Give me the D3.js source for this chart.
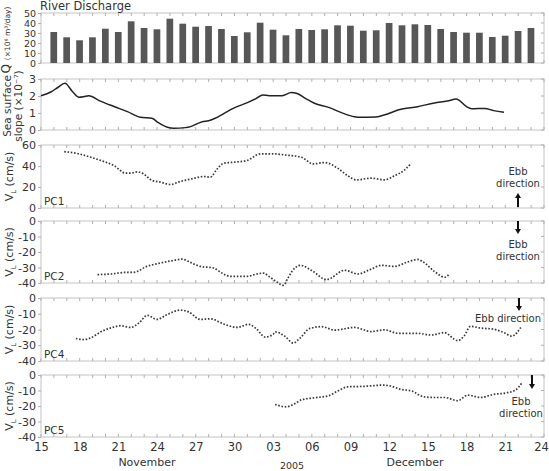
<!DOCTYPE html>
<html>
<head>
<meta charset="utf-8">
<script src="https://cdn.jsdelivr.net/npm/d3@7"></script>
<style>
  body { margin: 0; background: #fff; }
  svg text { font-family: "DejaVu Sans", Verdana, sans-serif; fill: #333; }
</style>
</head>
<body>
<div id="plot"></div>
<script>
// Data (day = days since 15 Nov 2005)
var discharge = [31, 25.7, 22.7, 25.7, 34.3, 31, 41.7, 35, 33.7, 44.3, 39.3, 36.3, 37, 34, 27, 30.7, 40.3, 33.3,
                 27.7, 34, 33, 33.7, 37.7, 37.3, 32.3, 32.7, 40, 37.7, 38.7, 38, 34, 31, 30.3, 30.3, 26, 27.3, 32, 35];

var slopeDays = [0, 0.8, 1.3, 1.85, 2.45, 2.95, 3.3, 3.7, 4.6, 5.7, 6.7, 7.7, 8.6, 9.1, 9.8, 10.3, 11.2, 11.6, 12.5, 13.0,
                 13.5, 14.2, 14.9, 16.0, 16.7, 17.2, 17.7, 18.2, 18.7, 19.4, 19.8, 20.5, 21.2, 22.3, 23.3, 24.3, 24.8,
                 25.9, 26.6, 27.9, 29.2, 30.5, 31.5, 32.2, 32.4, 33.0, 33.4, 34.4, 35.1, 35.9];
var slopeVals = [2.02, 2.25, 2.5, 2.75, 2.25, 1.92, 1.95, 2.02, 1.7, 1.37, 1.08, 0.75, 0.69, 0.43, 0.16, 0.1, 0.14, 0.2, 0.49, 0.55,
                 0.69, 0.98, 1.27, 1.61, 1.86, 2.06, 2.02, 2.02, 2.02, 2.2, 2.16, 1.86, 1.57, 1.33, 1.02, 0.78, 0.75,
                 0.76, 0.88, 1.22, 1.37, 1.59, 1.7, 1.82, 1.76, 1.37, 1.25, 1.27, 1.14, 1.04];

var pc1Days = [1.8, 2.96, 3.86, 4.89, 5.66, 6.56, 6.95, 7.46, 7.85, 8.62, 9.27, 10.04, 10.81, 11.71, 12.6, 13.13, 13.64, 14.16,
               14.93, 15.96, 16.99, 17.7, 18.15, 18.9, 20.2, 21.1, 22.0, 23.0, 23.8, 24.45, 25.6, 26.64, 27.4, 28.2, 28.7];
var pc1Vals = [53.7, 51.5, 48.3, 44.2, 40.4, 33.2, 33.2, 34.4, 33.2, 26.2, 24.6, 22.4, 25.3, 27.8, 30, 29.4, 36.9, 42.6,
               43.6, 45.2, 51.5, 51.5, 51.5, 50.5, 48.3, 42, 43.3, 37.9, 30.6, 26.8, 28.4, 26.8, 30.6, 36.3, 42.6];

var pc2Days = [4.38, 5.4, 6.69, 7.2, 8.2, 9.27, 10.3, 10.94, 11.58, 12.35, 13.38, 14.03, 14.67, 15.96, 16.73, 17.24, 17.76,
               18.15, 18.8, 19.15, 19.46, 20.1, 21.0, 22.14, 23.55, 24.58, 25.5, 26.4, 27.4, 28.4, 29.2, 29.56, 30.5, 31.3, 31.66];
var pc2Vals = [-34.6, -34.2, -33.1, -33.1, -29.3, -27.1, -25.4, -24.6, -26.7, -29.3, -30.3, -33.6, -35.7, -35.7, -34.2, -33.6, -36.3,
               -38.5, -41.5, -36.8, -32.5, -28.6, -32, -37.8, -31.8, -34.2, -31.4, -28.6, -29.3, -26.5, -24.8, -26, -32.5, -36.3, -34.2];

var pc4Days = [2.7, 3.35, 3.86, 4.63, 5.54, 6.18, 6.95, 7.6, 8.24, 9.0, 9.78, 10.81, 11.45, 12.35, 13.13, 14.16, 15.2, 16.1,
               16.73, 17.37, 18.0, 18.15, 18.9, 19.56, 20.1, 20.85, 21.75, 22.78, 24.3, 25.6, 26.64, 27.66, 29.2, 30.25,
               31.27, 32.3, 32.8, 33.3, 34.1, 35.1, 35.9, 36.5, 37.2];
var pc4Vals = [-25.7, -26.4, -25.3, -21.5, -18.7, -17.6, -18.7, -15.8, -11, -13.6, -10.5, -7.7, -8.8, -13.6, -13.2, -16.5, -18.7, -16.7,
               -19.8, -24.8, -23.1, -21.5, -24.2, -28.6, -25.3, -19.3, -18.2, -20.4, -18.7, -21.3, -20.2, -22.4, -22.4, -23.5,
               -22, -27, -24.2, -18, -19.1, -19.8, -22, -24.2, -18.7];

var pc5Days = [18.15, 19.0, 19.7, 20.2, 21.2, 22.3, 23.0, 23.8, 24.8, 25.8, 26.4, 27.0, 27.9, 28.7, 29.7, 30.5, 31.3, 32.3,
               33.1, 34.1, 35.1, 36.1, 36.8, 37.25];
var pc5Vals = [-19, -20.5, -18.4, -16, -14.7, -13.4, -10.4, -7.6, -7.4, -6.9, -6.5, -6.9, -9.3, -10.2, -14.1, -14.5, -14.5, -16.6,
               -13, -14.5, -12.5, -11.5, -9.7, -5.4];

var qTicks = [0, 10, 20, 30, 40, 50];
var slopeTicks = [0, 1, 2, 3];
var pc1Ticks = [0, 20, 40, 60];
var pcNegTicks = [0, -10, -20, -30, -40];
var xTickDays = [0, 3, 6, 9, 12, 15, 18, 21, 24, 27, 30, 33, 36, 39];

// Layout
var w = 549, h = 471;
var left = 41, right = 544;
var start = new Date(2005, 10, 15), end = new Date(2005, 11, 24);
var dayToDate = function(d) { return new Date(start.getTime() + d * 864e5); };

var svg = d3.select("#plot").append("svg").attr("width", w).attr("height", h);

var x = d3.scaleTime().domain([start, end]).range([left, right]);
var dayPx = x(dayToDate(1)) - x(start);

var panels = [
  {id: "q", top: 13, bottom: 63, domain: [0, 50], ticks: qTicks, tickFont: 9.5},
  {id: "slope", top: 79, bottom: 130, domain: [0, 3], ticks: slopeTicks, days: slopeDays, vals: slopeVals, solid: true},
  {id: "pc1", top: 145, bottom: 208, domain: [0, 60], ticks: pc1Ticks, days: pc1Days, vals: pc1Vals, label: "PC1"},
  {id: "pc2", top: 221, bottom: 283, domain: [-40, 0], ticks: pcNegTicks, days: pc2Days, vals: pc2Vals, label: "PC2"},
  {id: "pc4", top: 298, bottom: 361, domain: [-40, 0], ticks: pcNegTicks, days: pc4Days, vals: pc4Vals, label: "PC4"},
  {id: "pc5", top: 375, bottom: 437, domain: [-40, 0], ticks: pcNegTicks, days: pc5Days, vals: pc5Vals, label: "PC5"}
];

var allDays = d3.timeDay.range(start, d3.timeDay.offset(end, 1));

panels.forEach(function(p) {
  var y = d3.scaleLinear().domain(p.domain).range([p.bottom, p.top]);
  p.y = y;
  var g = svg.append("g");

  // frame
  g.append("rect")
    .attr("x", left).attr("y", p.top)
    .attr("width", right - left).attr("height", p.bottom - p.top)
    .attr("fill", "none").attr("stroke", "#c4c4c4");

  // daily ticks, top and bottom, inside
  g.selectAll(".tt").data(allDays).enter().append("line")
    .attr("x1", function(d) { return x(d); }).attr("x2", function(d) { return x(d); })
    .attr("y1", p.top).attr("y2", p.top + 3)
    .attr("stroke", "#b0b0b0");
  g.selectAll(".tb").data(allDays).enter().append("line")
    .attr("x1", function(d) { return x(d); }).attr("x2", function(d) { return x(d); })
    .attr("y1", p.bottom).attr("y2", p.bottom - 3)
    .attr("stroke", "#b0b0b0");

  // right side ticks
  g.selectAll(".tr").data(p.ticks).enter().append("line")
    .attr("x1", right).attr("x2", right - 3)
    .attr("y1", function(d) { return y(d); }).attr("y2", function(d) { return y(d); })
    .attr("stroke", "#b0b0b0");

  // left axis
  var yAxis = d3.axisLeft(y).tickValues(p.ticks).tickSize(3).tickPadding(2)
    .tickFormat(function(d) { return String(d); });
  var ax = svg.append("g").attr("transform", "translate(" + left + ",0)").call(yAxis);
  ax.select(".domain").remove();
  ax.selectAll(".tick line").attr("stroke", "#b0b0b0");
  ax.selectAll(".tick text").attr("font-size", p.tickFont || 11).attr("fill", "#333")
    .style("font-family", "DejaVu Sans, Verdana, sans-serif");

  if (p.days) {
    var pts = p.days.map(function(d, i) { return [dayToDate(d), p.vals[i]]; });
    var line = d3.line()
      .x(function(d) { return x(d[0]); })
      .y(function(d) { return y(d[1]); })
      .curve(d3.curveMonotoneX);
    var path = g.append("path").datum(pts)
      .attr("d", line)
      .attr("fill", "none");
    if (p.solid) {
      path.attr("stroke", "#222").attr("stroke-width", 1.5);
    } else {
      path.attr("stroke", "#3a3a3a").attr("stroke-width", 1.7).attr("stroke-dasharray", "1.6,1.7");
    }
  }

  if (p.label) {
    g.append("text").attr("x", left + 3).attr("y", p.bottom - 3)
      .attr("font-size", 10.5).text(p.label);
  }
});

// River discharge bars
var qPanel = panels[0];
var barDays = d3.timeDay.range(d3.timeDay.offset(start, 1), d3.timeDay.offset(start, 39));
svg.append("g").selectAll("rect").data(discharge).enter().append("rect")
  .attr("x", function(d, i) { return x(barDays[i]) - dayPx * 0.27; })
  .attr("width", dayPx * 0.52)
  .attr("y", function(d) { return qPanel.y(d); })
  .attr("height", function(d) { return qPanel.y(0) - qPanel.y(d); })
  .attr("fill", "#575757");

svg.append("text").attr("x", 40).attr("y", 10).attr("font-size", 11.5).text("River Discharge");

// bottom axis labels
var xAxis = d3.axisBottom(x).tickValues(xTickDays.map(dayToDate)).tickSize(0).tickPadding(6)
  .tickFormat(d3.timeFormat("%d"));
var xa = svg.append("g").attr("transform", "translate(0,437)").call(xAxis);
xa.select(".domain").remove();
xa.selectAll(".tick text").attr("font-size", 11.5).attr("fill", "#333")
  .style("font-family", "DejaVu Sans, Verdana, sans-serif");
// keep the last label inside the window
xa.selectAll(".tick text").filter(function(d, i, n) { return i === n.length - 1; }).attr("dx", -3);

svg.append("text").attr("x", 147).attr("y", 466).attr("text-anchor", "middle").attr("font-size", 11).text("November");
svg.append("text").attr("x", 415).attr("y", 466).attr("text-anchor", "middle").attr("font-size", 11).text("December");
svg.append("text").attr("x", 292).attr("y", 469).attr("text-anchor", "middle").attr("font-size", 9.5).text("2005");

// y axis titles
var qt = svg.append("text").attr("transform", "translate(10,40) rotate(-90)").attr("text-anchor", "middle");
qt.append("tspan").attr("font-size", 12).text("Q ");
qt.append("tspan").attr("font-size", 7.5).text("(\u00d710\u2076 m\u00b3/day)");

var st = svg.append("text").attr("transform", "translate(0,106) rotate(-90)").attr("text-anchor", "middle").attr("font-size", 10.5);
st.append("tspan").attr("x", 0).attr("y", 11).text("Sea surface");
st.append("tspan").attr("x", 0).attr("y", 22).text("slope (\u00d710\u207b\u2077)");

panels.slice(2).forEach(function(p) {
  var cy = (p.top + p.bottom) / 2;
  var t = svg.append("text").attr("transform", "translate(13," + cy + ") rotate(-90)")
    .attr("text-anchor", "middle").attr("font-size", 11);
  t.append("tspan").text("V");
  t.append("tspan").attr("font-size", 7).attr("dy", 3).text("L");
  t.append("tspan").attr("dy", -3).text(" (cm/s)");
});

// Ebb direction annotations
function arrow(xp, y1, y2) {
  var dir = y2 > y1 ? 1 : -1;
  svg.append("line").attr("x1", xp).attr("x2", xp).attr("y1", y1).attr("y2", y2 - dir * 4)
    .attr("stroke", "#111").attr("stroke-width", 2);
  svg.append("path")
    .attr("d", "M" + (xp - 3) + "," + (y2 - dir * 5) + "L" + (xp + 3) + "," + (y2 - dir * 5) + "L" + xp + "," + y2 + "Z")
    .attr("fill", "#111");
}
function ebb(cx, y, twoLines) {
  if (twoLines) {
    svg.append("text").attr("x", cx).attr("y", y).attr("text-anchor", "middle").attr("font-size", 10).text("Ebb");
    svg.append("text").attr("x", cx).attr("y", y + 12).attr("text-anchor", "middle").attr("font-size", 10).text("direction");
  } else {
    svg.append("text").attr("x", cx).attr("y", y).attr("text-anchor", "middle").attr("font-size", 10).text("Ebb direction");
  }
}
arrow(518, 207, 193);
ebb(518, 175, true);
arrow(518, 221, 234);
ebb(518, 248, true);
arrow(519, 298, 311);
ebb(508, 322, false);
arrow(532, 375, 389);
ebb(521, 405, true);
</script>
</body>
</html>
